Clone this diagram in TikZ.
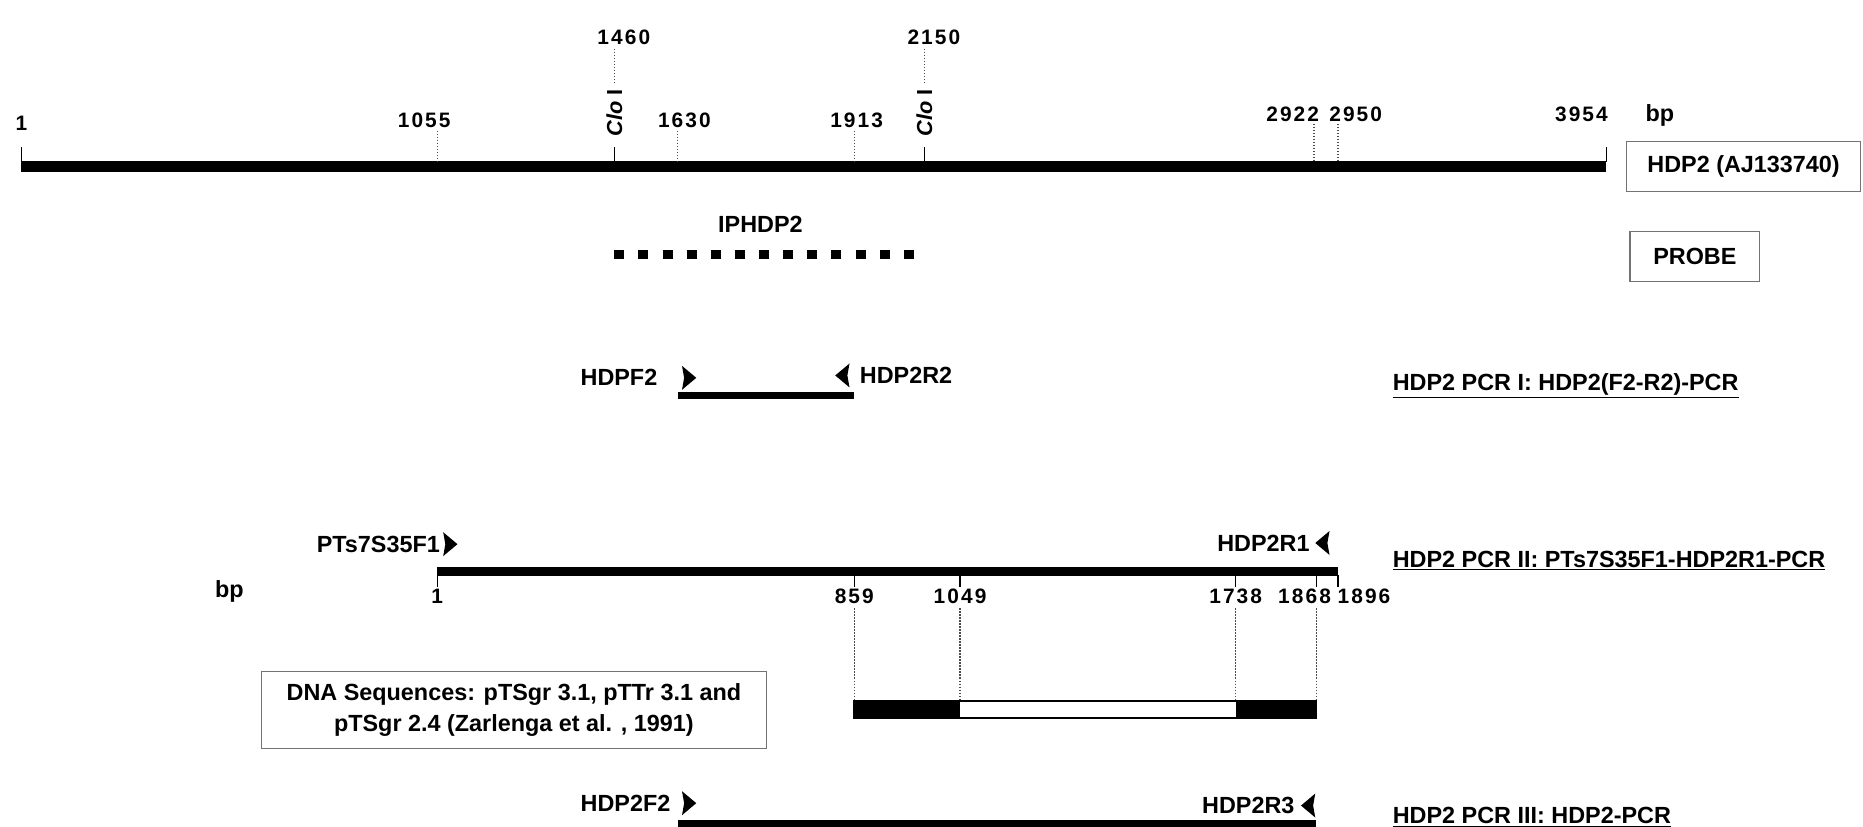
\documentclass[tikz,border=0pt]{standalone}
\usepackage{fontspec}
\setmainfont{Liberation Sans}
\newfontfamily\numfont[LetterSpace=10]{Liberation Sans}
\usepackage{xcolor}
\usepackage{tikz}
\usetikzlibrary{shapes.geometric, shapes.arrows, positioning}

\tikzset{
  lbl/.style={font=\fontsize{14}{19}\selectfont\bfseries, inner sep=0pt},
  num/.style={font=\numfont\fontsize{12.5}{14}\selectfont\bfseries, inner sep=0pt},
  site/.style={font=\fontsize{13}{15}\selectfont\bfseries, inner sep=0pt},
  title/.style={lbl, anchor=west},
  mapbar/.style={line width=0.22cm},
  pcrbar/.style={line width=0.16cm},
  probe/.style={line width=0.18cm, dash pattern=on 0.21cm off 0.2975cm},
  tick/.style={densely dotted, line width=0.8pt, black!70},
  endtick/.style={line width=0.8pt},
  primer/.style={dart, dart tip angle=80, dart tail angle=140, fill,
    inner sep=1pt, minimum width=0.34cm, minimum height=0.3cm},
  box/.style={lbl, draw=black!55, line width=0.9pt, align=center}
}

\begin{document}
\begin{tikzpicture}[x=0.025cm, y=-0.025cm]
\useasboundingbox (0,0) rectangle (1568,696);

\coordinate (a1) at (18,140);
\coordinate (a3954) at (1352,140);
\draw[mapbar] (a1) -- (a3954);
\foreach \x in {18,1352}
  \draw[endtick] (\x,124) -- (\x,136);
\foreach \x in {368,570,719}
  \draw[tick] (\x,110) -- (\x,136);
\foreach \x in {1106,1126}
  \draw[tick] (\x,104) -- (\x,136);
\node[num] (n1) at (18,104) {1};
\node[num] (n1055) at (357,101) {1055};
\node[num] (n1630) at (576,101) {1630};
\node[num] (n1913) at (721,101) {1913};
\node[num] (n2922) at (1088,96) {2922};
\node[num] (n2950) at (1141,96) {2950};
\node[num] (n3954) at (1331,96) {3954};
\node[lbl] (bpa) at (1397,97) {bp};
\foreach \x/\n in {517/1460, 778/2150} {
  \draw[endtick] (\x,124) -- (\x,136);
  \node[site, rotate=90] (clo\n) at (\x,95) {\textit{Clo} I};
  \draw[tick] (\x,41) -- (\x,70);
  \node[num] (n\n) at (\x+8,31) {\n};
}
\node[box, minimum width=4.925cm, minimum height=1.05cm] (seq) at (1467.5,140) {HDP2 (AJ133740)};
\node[box, minimum width=2.725cm, minimum height=1.05cm] (probebox) at (1426.5,216) {PROBE};

\node[lbl] (iphdp2) at (640,189) {IPHDP2};
\coordinate (p1) at (517,214);
\coordinate (p2) at (769,214);
\draw[probe] (p1) -- (p2);

\node[primer] (f2) at (579,318) {};
\node[primer, shape border rotate=180] (r2) at (710,316) {};
\node[lbl, left=0.55cm of f2] (f2lbl) {HDPF2};
\node[lbl, right=0.25cm of r2] (r2lbl) {HDP2R2};
\coordinate (i1) at (571,333);
\coordinate (i2) at (719,333);
\draw[pcrbar] (i1) -- (i2);
\node[title] (pcr1) at (1172,325) {\underline{HDP2 PCR I: HDP2(F2-R2)-PCR}};

\node[primer] (ts) at (378,458) {};
\node[primer, shape border rotate=180] (r1) at (1114,457) {};
\node[lbl, left=0.1cm of ts] (tslbl) {PTs7S35F1};
\node[lbl, left=0.1cm of r1] (r1lbl) {HDP2R1};
\coordinate (b1) at (368,481);
\coordinate (b1896) at (1126,481);
\draw[line width=0.175cm] (b1) -- (b1896);
\foreach \x in {368,719,808,1040,1108,1126}
  \draw[endtick] (\x,484) -- (\x,494);
\foreach \x/\n in {368/1, 719/859, 808/1049, 1040/1738, 1098/1868, 1148/1896}
  \node[num] (m\n) at (\x,502) {\n};
\node[lbl] (bpb) at (193,498) {bp};
\node[title] (pcr2) at (1172,472) {\underline{HDP2 PCR II: PTs7S35F1-HDP2R1-PCR}};

\foreach \x in {719,808,1040,1108}
  \draw[tick] (\x,512) -- (\x,590);
\fill (719,590) rectangle (808,604);
\fill (1040,590) rectangle (1108,604);
\draw[line width=1.2pt] (719,590) rectangle (1108,604);
\node[box, minimum width=10.625cm, minimum height=1.625cm] (dna) at (432.5,597.5)
  {DNA Sequences: pTSgr 3.1, pTTr 3.1 and\\ pTSgr 2.4 (Zarlenga et al. , 1991)};

\node[primer] (f3) at (579,676) {};
\node[primer, shape border rotate=180] (r3) at (1102,678) {};
\node[lbl, left=0.275cm of f3] (f3lbl) {HDP2F2};
\node[lbl, left=0.12cm of r3] (r3lbl) {HDP2R3};
\coordinate (c1) at (571,693);
\coordinate (c2) at (1108,693);
\draw[pcrbar] (c1) -- (c2);
\node[title] (pcr3) at (1172,688) {\underline{HDP2 PCR III: HDP2-PCR}};
\end{tikzpicture}
\end{document}
